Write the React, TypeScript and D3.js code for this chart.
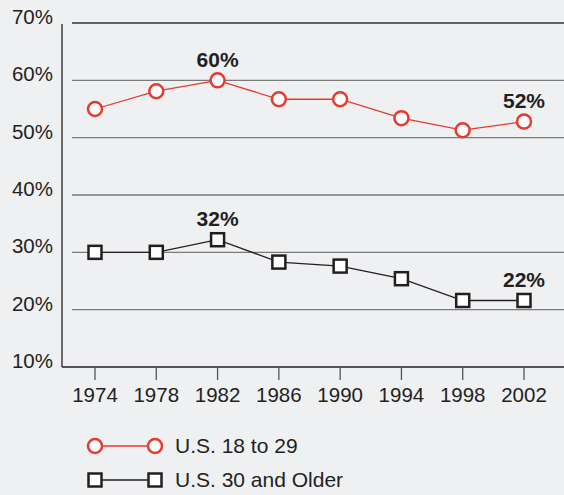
import React from "react";
import * as d3 from "d3";

const W = 564;
const H = 495;

const years = [1974, 1978, 1982, 1986, 1990, 1994, 1998, 2002];
const young = [55, 58.1, 60, 56.7, 56.7, 53.4, 51.3, 52.8];
const older = [30, 30, 32.2, 28.3, 27.6, 25.4, 21.6, 21.6];
const yTicks = [10, 20, 30, 40, 50, 60, 70];
const callouts = [
  { series: "young", i: 2, text: "60%" },
  { series: "young", i: 7, text: "52%" },
  { series: "older", i: 2, text: "32%" },
  { series: "older", i: 7, text: "22%" },
];
const legendLabels = ["U.S. 18 to 29", "U.S. 30 and Older"];

const RED = "#e8392f";
const DARK = "#231f20";
const FONT = "'Liberation Sans', Arial, sans-serif";

export default function App() {
  const x = d3.scalePoint<number>().domain(years).range([95, 524]);
  const y = d3.scaleLinear().domain([10, 70]).range([367, 23]);

  const line = d3
    .line<number>()
    .x((_, i) => x(years[i])!)
    .y((d) => y(d));

  return (
    <svg
      width={W}
      height={H}
      style={{ position: "absolute", left: 0, top: 0, background: "#eff0f2" }}
      fontFamily={FONT}
    >
      {/* grid */}
      {yTicks.slice(1).map((t) => (
        <line
          key={t}
          x1={72}
          x2={W}
          y1={y(t)}
          y2={y(t)}
          stroke={t === 70 ? "#333" : "#7a7a7a"}
          strokeWidth={1.3}
        />
      ))}
      {/* axes */}
      <line x1={62} x2={62} y1={24} y2={y(10)} stroke={DARK} strokeWidth={1.3} />
      <line x1={62} x2={W} y1={y(10)} y2={y(10)} stroke={DARK} strokeWidth={1.3} />
      {yTicks.map((t) => (
        <text key={t} x={53} y={y(t) + 1} textAnchor="end" fontSize={20.5} fill={DARK}>
          {t}%
        </text>
      ))}
      {years.map((yr) => (
        <g key={yr}>
          <line x1={x(yr)} x2={x(yr)} y1={y(10)} y2={380} stroke="#555" strokeWidth={1.3} />
          <text x={x(yr)} y={401.5} textAnchor="middle" fontSize={20.5} fill={DARK}>
            {yr}
          </text>
        </g>
      ))}

      {/* series */}
      <path d={line(young)!} fill="none" stroke={RED} strokeWidth={1.3} />
      <path d={line(older)!} fill="none" stroke={DARK} strokeWidth={1.3} />
      {young.map((v, i) => (
        <circle key={i} cx={x(years[i])} cy={y(v)} r={7} fill="#fff" stroke={RED} strokeWidth={2.5} />
      ))}
      {older.map((v, i) => (
        <rect key={i} x={x(years[i])! - 6.5} y={y(v) - 6.5} width={13} height={13} fill="#fff" stroke={DARK} strokeWidth={2.5} />
      ))}
      {callouts.map((c) => {
        const v = c.series === "young" ? young[c.i] : older[c.i];
        return (
          <text
            key={c.text}
            x={x(years[c.i])}
            y={y(v) - 13.5}
            textAnchor="middle"
            fontSize={21}
            fontWeight="bold"
            fill={DARK}
          >
            {c.text}
          </text>
        );
      })}

      {/* legend */}
      <g>
        <line x1={95} x2={155} y1={446} y2={446} stroke={RED} strokeWidth={1.3} />
        <circle cx={95} cy={446} r={7} fill="#fff" stroke={RED} strokeWidth={2.5} />
        <circle cx={155} cy={446} r={7} fill="#fff" stroke={RED} strokeWidth={2.5} />
        <text x={175} y={453.3} fontSize={21} fill={DARK}>{legendLabels[0]}</text>
        <line x1={95} x2={155} y1={480} y2={480} stroke={DARK} strokeWidth={1.3} />
        <rect x={88.5} y={473.5} width={13} height={13} fill="#fff" stroke={DARK} strokeWidth={2.5} />
        <rect x={148.5} y={473.5} width={13} height={13} fill="#fff" stroke={DARK} strokeWidth={2.5} />
        <text x={175} y={486.7} fontSize={21} fill={DARK}>{legendLabels[1]}</text>
      </g>
    </svg>
  );
}
